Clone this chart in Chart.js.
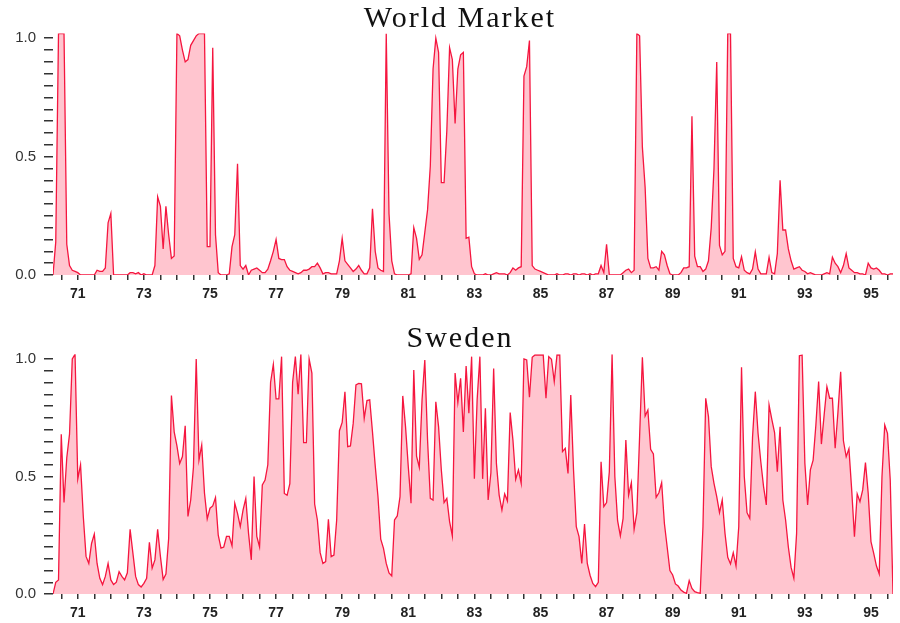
<!DOCTYPE html>
<html>
<head>
<meta charset="utf-8">
<script src="https://cdn.jsdelivr.net/npm/chart.js@4"></script>
<style>
  html, body { margin: 0; padding: 0; background: #fff; }
  #wrap { position: relative; width: 900px; height: 623px; overflow: hidden; }
  canvas { position: absolute; left: 0; }
  .title {
    position: absolute; left: 10px; width: 900px; text-align: center;
    font-family: "Liberation Serif", "Times New Roman", serif;
    font-size: 30px; line-height: 30px; letter-spacing: 2px; color: #111;
    z-index: 2;
  }
</style>
</head>
<body>
<div id="wrap">
  <div class="title" style="top:2px">World Market</div>
  <div class="title" style="top:322px">Sweden</div>
  <canvas id="world" width="900" height="311" style="top:0"></canvas>
  <canvas id="sweden" width="900" height="312" style="top:311px"></canvas>
</div>
<script>
"use strict";
// monthly observations, April 1970 onwards
const startYear = 70.25;
const worldMarket = [
  0, 0.14, 1.02, 1.02, 1.02, 0.13, 0.04, 0.02, 0.015, 0.01,
  0, 0, 0, 0, 0, 0, 0.02, 0.015, 0.015, 0.03,
  0.22, 0.26, 0, 0, 0, 0, 0, 0, 0.01, 0.01,
  0.005, 0.01, 0, 0.005, 0, 0, 0, 0.04, 0.33, 0.29,
  0.11, 0.29, 0.17, 0.07, 0.08, 1.02, 1.01, 0.95, 0.9, 0.91,
  0.97, 0.99, 1.01, 1.02, 1.02, 1.02, 0.12, 0.12, 0.96, 0.17,
  0.01, 0, 0, 0, 0.005, 0.12, 0.17, 0.47, 0.04, 0.025,
  0.04, 0, 0.02, 0.025, 0.03, 0.02, 0.01, 0.01, 0.025, 0.06,
  0.1, 0.15, 0.07, 0.065, 0.065, 0.035, 0.02, 0.015, 0.01, 0.005,
  0.01, 0.02, 0.02, 0.025, 0.035, 0.035, 0.05, 0.03, 0.005, 0.01,
  0.01, 0.005, 0.005, 0.005, 0.06, 0.155, 0.06, 0.045, 0.03, 0.015,
  0.025, 0.04, 0.02, 0.005, 0.005, 0.03, 0.28, 0.1, 0.03, 0.02,
  0.015, 1.02, 0.26, 0.06, 0.005, 0, 0, 0, 0, 0,
  0.005, 0.2, 0.155, 0.066, 0.085, 0.18, 0.275, 0.46, 0.87, 1.0,
  0.94, 0.39, 0.39, 0.61, 0.96, 0.91, 0.64, 0.87, 0.93, 0.94,
  0.155, 0.16, 0.035, 0.005, 0, 0, 0, 0.005, 0, 0,
  0.005, 0.01, 0.005, 0.005, 0.005, 0, 0.01, 0.03, 0.02, 0.03,
  0.035, 0.84, 0.88, 0.99, 0.04, 0.025, 0.02, 0.015, 0.01, 0.005,
  0, 0, 0, 0.005, 0, 0, 0.005, 0.005, 0, 0.005,
  0.005, 0, 0.005, 0.005, 0, 0.005, 0, 0.005, 0.005, 0.04,
  0.01, 0.13, 0, 0, 0, 0, 0, 0.01, 0.02, 0.025,
  0.01, 0.02, 1.02, 1.01, 0.54, 0.37, 0.07, 0.03, 0.03, 0.035,
  0.02, 0.1, 0.085, 0.04, 0.005, 0, 0, 0, 0.01, 0.03,
  0.03, 0.035, 0.67, 0.08, 0.035, 0.035, 0.015, 0.025, 0.06, 0.2,
  0.45, 0.9, 0.125, 0.085, 0.1, 1.02, 1.02, 0.07, 0.035, 0.03,
  0.077, 0.02, 0.01, 0.005, 0.025, 0.098, 0.025, 0.005, 0.005, 0.005,
  0.075, 0.01, 0.005, 0.09, 0.4, 0.19, 0.19, 0.11, 0.06, 0.025,
  0.03, 0.035, 0.02, 0.015, 0.005, 0.01, 0.005, 0, 0, 0,
  0.005, 0.01, 0.005, 0.075, 0.05, 0.035, 0.01, 0.04, 0.09, 0.03,
  0.02, 0.01, 0.01, 0.005, 0.005, 0, 0.05, 0.03, 0.025, 0.03,
  0.02, 0.005, 0.005, 0, 0.005, 0.005
];
const sweden = [
  0, 0.05, 0.06, 0.68, 0.39, 0.58, 0.68, 1.0, 1.02, 0.49,
  0.55, 0.33, 0.16, 0.13, 0.215, 0.255, 0.13, 0.067, 0.04, 0.075,
  0.13, 0.06, 0.04, 0.05, 0.095, 0.075, 0.06, 0.09, 0.275, 0.175,
  0.075, 0.04, 0.03, 0.045, 0.067, 0.22, 0.11, 0.145, 0.275, 0.16,
  0.062, 0.085, 0.237, 0.845, 0.69, 0.63, 0.555, 0.585, 0.716, 0.33,
  0.4, 0.54, 1.0, 0.57, 0.634, 0.43, 0.32, 0.365, 0.375, 0.41,
  0.25, 0.195, 0.2, 0.245, 0.245, 0.205, 0.386, 0.343, 0.287, 0.357,
  0.407, 0.258, 0.145, 0.5, 0.245, 0.2, 0.464, 0.485, 0.55, 0.9,
  0.977, 0.83, 0.83, 1.01, 0.428, 0.42, 0.47, 0.9, 1.01, 0.85,
  1.02, 0.644, 0.644, 1.0, 0.94, 0.383, 0.315, 0.176, 0.13, 0.138,
  0.318, 0.159, 0.166, 0.315, 0.695, 0.73, 0.86, 0.627, 0.63, 0.726,
  0.89, 0.896, 0.894, 0.747, 0.823, 0.826, 0.69, 0.545, 0.414, 0.233,
  0.194, 0.13, 0.09, 0.077, 0.315, 0.332, 0.414, 0.843, 0.712, 0.542,
  0.386, 0.953, 0.587, 0.539, 0.826, 0.996, 0.655, 0.407, 0.4, 0.818,
  0.712, 0.528, 0.389, 0.407, 0.308, 0.247, 0.94, 0.815, 0.918, 0.69,
  0.97, 0.769, 1.01, 0.49, 0.826, 1.01, 0.49, 0.79, 0.4, 0.516,
  0.96, 0.556, 0.421, 0.357, 0.426, 0.396, 0.772, 0.655, 0.488, 0.528,
  0.471, 1.0, 0.996, 0.837, 1.007, 1.017, 1.017, 1.017, 1.017, 0.833,
  1.01, 0.999, 0.904, 1.017, 1.017, 0.606, 0.62, 0.513, 0.847, 0.528,
  0.287, 0.244, 0.13, 0.298, 0.13, 0.08, 0.045, 0.031, 0.05, 0.563,
  0.372, 0.389, 0.52, 1.02, 0.5, 0.312, 0.247, 0.322, 0.655, 0.421,
  0.474, 0.275, 0.346, 0.672, 1.007, 0.757, 0.783, 0.616, 0.596, 0.411,
  0.431, 0.474, 0.3, 0.2, 0.1, 0.081, 0.043, 0.034, 0.017, 0.008,
  0.003, 0.057, 0.024, 0.01, 0.006, 0.003, 0.287, 0.833, 0.755, 0.542,
  0.471, 0.414, 0.346, 0.4, 0.258, 0.156, 0.128, 0.176, 0.119, 0.287,
  0.965, 0.5, 0.346, 0.322, 0.667, 0.861, 0.684, 0.563, 0.457, 0.379,
  0.804, 0.743, 0.687, 0.52, 0.712, 0.4, 0.315, 0.2, 0.113, 0.067,
  0.258, 1.014, 1.017, 0.556, 0.379, 0.528, 0.57, 0.719, 0.904, 0.638,
  0.762, 0.882, 0.833, 0.833, 0.62, 0.772, 0.946, 0.652, 0.584, 0.618,
  0.443, 0.244, 0.426, 0.393, 0.443, 0.559, 0.428, 0.223, 0.173, 0.119,
  0.085, 0.5, 0.719, 0.684, 0.485, 0
];
const xLabelYears = [71, 73, 75, 77, 79, 81, 83, 85, 87, 89, 91, 93, 95];
const yLabelValues = [0, 0.5, 1];

const months = worldMarket.map((_, k) => startYear + k / 12);
const lastMonth = months[months.length - 1];

// tick marks every half year on x, every 0.05 on y
const xTickValues = [];
for (let v = 70.5; v <= lastMonth; v += 0.5) xTickValues.push(v);
const yTickValues = [];
for (let k = 0; k <= 20; k++) yTickValues.push(Math.round(k * 5) / 100);

const lineColor = "#f5163f";
const fillColor = "#ffc5cf";

function makeChart(id, values, padTop, xAxisHeight) {
  const ctx = document.getElementById(id).getContext("2d");
  return new Chart(ctx, {
    type: "line",
    data: {
      datasets: [{
        data: values.map((v, k) => ({ x: months[k], y: v })),
        borderColor: lineColor,
        backgroundColor: fillColor,
        borderWidth: 1.3,
        fill: "origin",
        pointRadius: 0,
        tension: 0,
      }],
    },
    options: {
      responsive: false,
      animation: false,
      layout: { padding: { top: padTop, right: 7, left: 0, bottom: 0 } },
      plugins: { legend: { display: false }, tooltip: { enabled: false } },
      scales: {
        x: {
          type: "linear",
          min: startYear,
          max: lastMonth,
          afterBuildTicks: (axis) => { axis.ticks = xTickValues.map((v) => ({ value: v })); },
          afterFit: (axis) => { axis.height = xAxisHeight; },
          grid: { drawOnChartArea: false, tickLength: 5, color: "#333", lineWidth: 1.5 },
          border: { display: false },
          ticks: {
            autoSkip: false,
            maxRotation: 0,
            padding: 6,
            color: "#222",
            font: { family: "Liberation Sans", size: 14, weight: "bold" },
            callback: (v) => (xLabelYears.includes(v) ? String(v) : ""),
          },
        },
        y: {
          min: 0,
          max: 1.02,
          afterBuildTicks: (axis) => { axis.ticks = yTickValues.map((v) => ({ value: v })); },
          afterFit: (axis) => { axis.width = 53; },
          grid: { drawOnChartArea: false, tickLength: 9, color: "#333", lineWidth: 1.5 },
          border: { display: false },
          ticks: {
            autoSkip: false,
            padding: 8,
            color: "#333",
            font: { family: "Liberation Sans", size: 15 },
            callback: (v) => (yLabelValues.some((t) => Math.abs(t - v) < 1e-6) ? v.toFixed(1) : ""),
          },
        },
      },
    },
  });
}

makeChart("world", worldMarket, 33.5, 36);
makeChart("sweden", sweden, 43.3, 29);
</script>
</body>
</html>
